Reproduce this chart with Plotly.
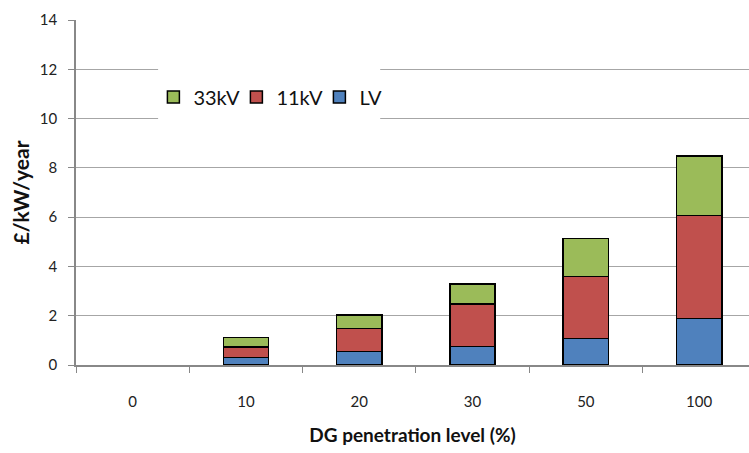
import plotly.graph_objects as go

categories = ["0", "10", "20", "30", "50", "100"]
lv = [0, 0.30, 0.54, 0.76, 1.08, 1.89]
kv11 = [0, 0.44, 0.95, 1.72, 2.52, 4.17]
kv33 = [0, 0.37, 0.54, 0.81, 1.54, 2.42]
y_ticks = [0, 2, 4, 6, 8, 10, 12, 14]

FONT = "Lato, 'Liberation Sans', sans-serif"
fig = go.Figure()
for name, vals, col in [("LV", lv, "#4F81BD"), ("11kV", kv11, "#C0504D"), ("33kV", kv33, "#9BBB59")]:
    # zero-height segments are not drawn (no outline line at the baseline)
    yv = [v if v != 0 else None for v in vals]
    fig.add_trace(go.Bar(x=categories, y=yv, name=name,
                         marker=dict(color=col, line=dict(color="black", width=1.5)), width=0.4))

fig.update_layout(
    barmode="stack",
    width=749, height=453,
    margin=dict(l=76, r=0, t=20, b=88),
    plot_bgcolor="white", paper_bgcolor="white",
    font=dict(family=FONT, size=15, color="#222"),
    showlegend=True,
    legend=dict(orientation="h", x=0.115, y=0.777, xanchor="left", yanchor="middle",
                traceorder="reversed", font=dict(size=20, color="#111"),
                bgcolor="rgba(0,0,0,0)", itemwidth=30, entrywidth=38, entrywidthmode="pixels"),
    shapes=[dict(type="rect", xref="paper", yref="paper", x0=0.122, x1=0.452, y0=0.70, y1=0.87,
                 fillcolor="white", line=dict(width=0), layer="above")],
)
fig.update_xaxes(type="category", categoryarray=categories, categoryorder="array",
                 range=[-0.5, 5.44], tickson="boundaries", ticks="outside", ticklen=6,
                 tickcolor="#888", showline=True, linecolor="#888", linewidth=2, showgrid=False,
                 layer="above traces",
                 automargin=False, ticklabelstandoff=22,
                 title=dict(text="DG penetration level (%)", font=dict(size=19, color="#111", weight="bold"), standoff=20))
fig.update_yaxes(range=[0, 14], tickvals=y_ticks, ticks="outside", ticklen=6, tickcolor="#888",
                 showline=True, linecolor="#888", linewidth=1.5, showgrid=True, gridcolor="#A6A6A6", gridwidth=1,
                 zeroline=False, automargin=False, ticklabelstandoff=8,
                 title=dict(text="£/kW/year", font=dict(size=21, color="#111", weight="bold"), standoff=4))
fig.write_html("out.html")
